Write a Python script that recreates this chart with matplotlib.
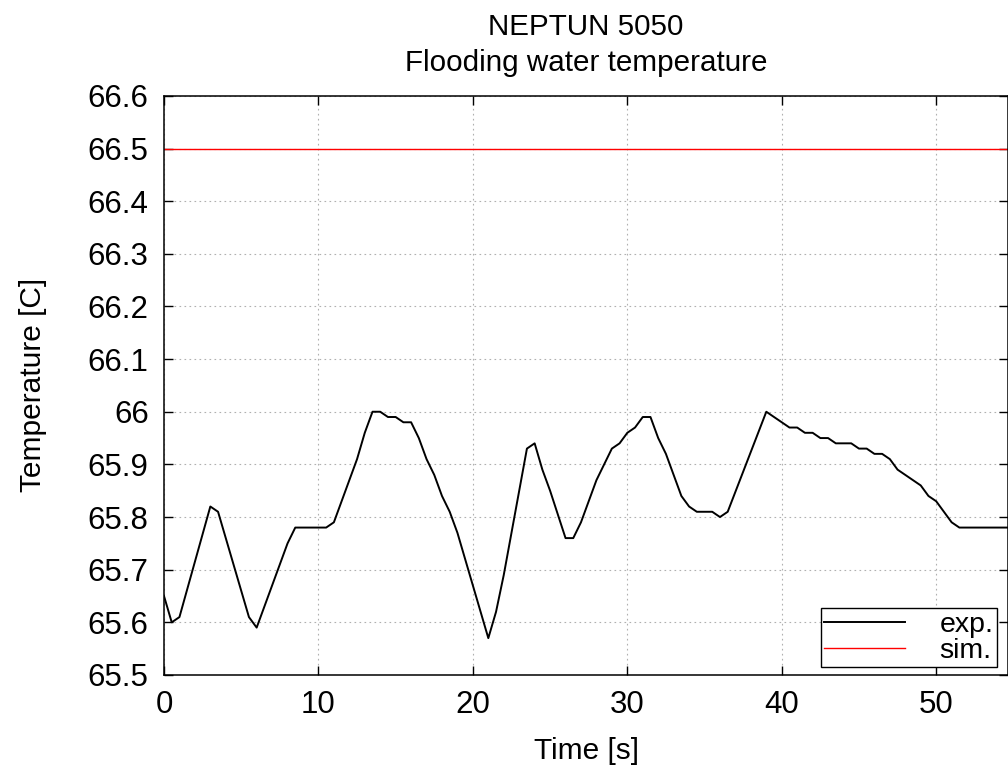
import numpy as np
from matplotlib import pyplot as plt

plt.rcParams['font.family'] = ['Liberation Sans', 'DejaVu Sans']

t_exp = [0, 0.5, 1.0, 3.0, 3.5, 5.5, 6.0, 8.0, 8.5, 10.5, 11.0, 12.0, 12.5,
         13.0, 13.5, 14.0, 14.5, 15.0, 15.5, 16.0, 16.5, 17.0, 17.5, 18.0,
         18.5, 19.0, 20.0, 21.0, 21.5, 22.0, 23.5, 24.0, 24.5, 25.0, 26.0,
         26.5, 27.0, 28.0, 28.5, 29.0, 29.5, 30.0, 30.5, 31.0, 31.5, 32.0,
         32.5, 33.5, 34.0, 34.5, 35.5, 36.0, 36.5, 39.0, 39.5, 40.0, 40.5,
         41.0, 41.5, 42.0, 42.5, 43.0, 43.5, 44.5, 45.0, 45.5, 46.0, 46.5,
         47.0, 47.5, 48.0, 48.5, 49.0, 49.5, 50.0, 50.5, 51.0, 51.5, 55.0]
T_exp = [65.65, 65.60, 65.61, 65.82, 65.81, 65.61, 65.59, 65.75, 65.78, 65.78,
         65.79, 65.87, 65.91, 65.96, 66.00, 66.00, 65.99, 65.99, 65.98, 65.98,
         65.95, 65.91, 65.88, 65.84, 65.81, 65.77, 65.67, 65.57, 65.62, 65.69,
         65.93, 65.94, 65.89, 65.85, 65.76, 65.76, 65.79, 65.87, 65.90, 65.93,
         65.94, 65.96, 65.97, 65.99, 65.99, 65.95, 65.92, 65.84, 65.82, 65.81,
         65.81, 65.80, 65.81, 66.00, 65.99, 65.98, 65.97, 65.97, 65.96, 65.96,
         65.95, 65.95, 65.94, 65.94, 65.93, 65.93, 65.92, 65.92, 65.91, 65.89,
         65.88, 65.87, 65.86, 65.84, 65.83, 65.81, 65.79, 65.78, 65.78]

# Simulation
t_sim = [0, 55.0]
T_sim = [66.5, 66.5]

fig = plt.figure(figsize=(10.08, 7.73), dpi=100)
ax = fig.add_axes([0.1627, 0.1268, 0.8373, 0.7492])

ax.plot(t_exp, T_exp, color='black', linewidth=1.4, label='exp.')
ax.plot(t_sim, T_sim, color='red', linewidth=1.0, label='sim.')

ax.set_xlim(0, 54.65)
ax.set_ylim(65.5, 66.6)
ax.set_xticks(np.arange(0, 51, 10))
ax.set_yticks(np.arange(65.5, 66.61, 0.1))
ax.set_yticklabels(['65.5', '65.6', '65.7', '65.8', '65.9', '66',
                    '66.1', '66.2', '66.3', '66.4', '66.5', '66.6'])
ax.tick_params(direction='in', length=6.5, width=1.0, labelsize=22.5,
               top=True, right=True, pad=11)
for s in ax.spines.values():
    s.set_linewidth(1.1)
ax.grid(True, color='#b0b0b0', linestyle=(0, (1.5, 3)), linewidth=0.8)

ax.set_title("NEPTUN 5050\nFlooding water temperature", fontsize=21.3,
             pad=18, linespacing=1.35)
ax.set_xlabel("Time [s]", fontsize=21.5, labelpad=12)
ax.set_ylabel("Temperature [C]", fontsize=21.5, labelpad=29)

leg = ax.legend(loc='lower right', bbox_to_anchor=(0.987, 0.0138),
                borderaxespad=0, fontsize=20.5, fancybox=False,
                edgecolor='black', framealpha=1, handlelength=2.85,
                handletextpad=1.2, borderpad=0.12, labelspacing=0.0)
leg.get_frame().set_linewidth(1.0)

fig.savefig("out.png", dpi=100)
